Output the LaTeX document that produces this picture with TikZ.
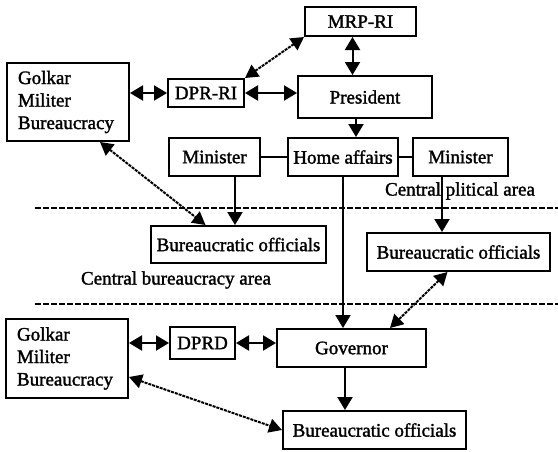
\documentclass[tikz,border=0pt]{standalone}
\usepackage{fontspec}
\setmainfont{Liberation Serif}[FakeBold=1.6,AutoFakeBold=1.6]
\usetikzlibrary{arrows.meta}
\begin{document}
\begin{tikzpicture}[x=1pt,y=-1pt,
  box/.style={draw, line width=2pt, rectangle, inner sep=0pt, font=\fontsize{19}{22.5}\selectfont\bfseries},
  tx/.style={font=\fontsize{19}{22.5}\selectfont\bfseries, inner sep=0pt},
  con/.style={line width=2pt},
  arr/.style={con, -{Triangle[length=13pt,width=15pt]}},
  darr/.style={con, {Triangle[length=13pt,width=15pt]}-{Triangle[length=13pt,width=15pt]}},
  dotarr/.style={line width=2pt, dash pattern=on 3pt off 1pt, {Triangle[length=13pt,width=14pt]}-{Triangle[length=13pt,width=14pt]}},
  sep/.style={line width=1.6pt, dash pattern=on 6pt off 2pt}]
\useasboundingbox (0,0) rectangle (558,451);
% nodes
\node[box, minimum width=122pt, minimum height=78pt, text width=100pt, inner xsep=11pt, align=left] (golkarT) at (68,102) {Golkar\\Militer\\Bureaucracy};
\node[box, minimum width=76pt, minimum height=28pt] (dprri) at (206,93) {DPR-RI};
\node[box, minimum width=111pt, minimum height=29pt] (mrp) at (360.5,21.5) {MRP-RI};
\node[box, minimum width=134pt, minimum height=42pt] (pres) at (365,97) {President};
\node[box, minimum width=91pt, minimum height=38pt] (minL) at (214.5,157) {Minister};
\node[box, minimum width=110pt, minimum height=38pt] (home) at (343,157) {Home affairs};
\node[box, minimum width=95pt, minimum height=38pt] (minR) at (460.5,157) {Minister};
\node[box, minimum width=175pt, minimum height=37pt] (boL) at (238.5,244.5) {Bureaucratic officials};
\node[box, minimum width=183pt, minimum height=38pt] (boR) at (458.5,252) {Bureaucratic officials};
\node[box, minimum width=122pt, minimum height=79pt, text width=100pt, inner xsep=11pt, align=left] (golkarB) at (67,358.5) {Golkar\\Militer\\Bureaucracy};
\node[box, minimum width=65pt, minimum height=32pt] (dprd) at (202.5,343) {DPRD};
\node[box, minimum width=149pt, minimum height=38pt] (gov) at (351.5,348) {Governor};
\node[box, minimum width=183pt, minimum height=38pt] (boB) at (374.5,430) {Bureaucratic officials};
% area labels
\node[tx] (polit) at (460,191) {Central plitical area};
\node[tx] (burarea) at (176,280) {Central bureaucracy area};
% separators
\coordinate (s1a) at (35,208); \coordinate (s1b) at (558,208);
\coordinate (s2a) at (35,304); \coordinate (s2b) at (558,304);
\draw[sep] (s1a) -- (s1b);
\draw[sep] (s2a) -- (s2b);
% connectors
\draw[darr] (dprri.west -| golkarT.east) -- (dprri.west);
\draw[darr] (dprri.east) -- (dprri.east -| pres.west);
\draw[dotarr] (dprri.north east) -- (mrp.south west);
\draw[darr] ([xshift=-8pt]mrp.south) -- ([xshift=-8pt]mrp.south |- pres.north);
\draw[arr] ([xshift=-9pt]pres.south) -- ([xshift=-9pt]pres.south |- home.north);
\draw[con] (minL.east) -- (home.west);
\draw[con] (home.east) -- (minR.west);
\draw[arr] ([xshift=20.5pt]minL.south) -- ([xshift=20.5pt]minL.south |- boL.north);
\draw[dotarr] ([xshift=32pt]golkarT.south) -- ([xshift=-33pt]boL.north);
\draw[arr] (home.south) -- (home.south |- gov.north);
\draw[arr] ([xshift=-18.5pt]minR.south) -- ([xshift=-18.5pt]minR.south |- boR.north);
\draw[dotarr] ([xshift=-11pt]boR.south) -- ([xshift=38.5pt]gov.north);
\draw[darr] (dprd.west -| golkarB.east) -- (dprd.west);
\draw[darr] (dprd.east) -- (dprd.east -| gov.west);
\draw[arr] ([xshift=-6.5pt]gov.south) -- ([xshift=-6.5pt]gov.south |- boB.north);
\draw[dotarr] ([yshift=-18.5pt]golkarB.east) -- (boB.west);
\end{tikzpicture}
\end{document}
